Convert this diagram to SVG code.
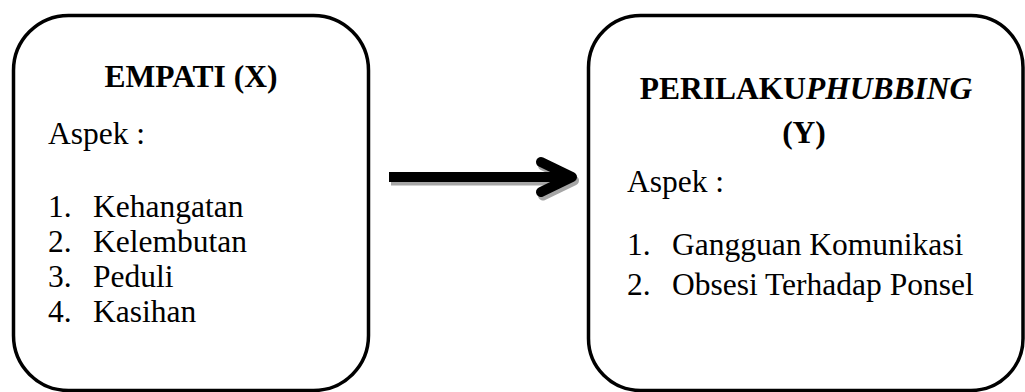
<svg xmlns="http://www.w3.org/2000/svg" width="1025" height="392" viewBox="0 0 1025 392">
<style>
.box{fill:#fff;stroke:#000;stroke-width:3.5}
.t{font-family:"Liberation Serif","Times New Roman",serif;font-size:31.5px;fill:#000}
.b{font-weight:bold}
.bi{font-weight:bold;font-style:italic}
.shaft{stroke-linecap:butt;fill:none}
.head{fill:none;stroke-linecap:round;stroke-linejoin:round}
</style>
<rect width="1025" height="392" fill="#fff"/>
<g id="node-empati">
<rect class="box" x="13.5" y="15.5" width="355" height="375" rx="55" ry="55"/>
<text class="t b" x="191" y="87" text-anchor="middle">EMPATI (X)</text>
<text class="t" x="48" y="144">Aspek :</text>
<text class="t" x="48" y="217">1.</text><text class="t" x="93" y="217">Kehangatan</text>
<text class="t" x="48" y="252">2.</text><text class="t" x="93" y="252">Kelembutan</text>
<text class="t" x="48" y="287">3.</text><text class="t" x="93" y="287">Peduli</text>
<text class="t" x="48" y="322">4.</text><text class="t" x="93" y="322">Kasihan</text>
</g>
<g id="node-perilaku">
<rect class="box" x="588.5" y="15.5" width="434.5" height="375" rx="52" ry="52"/>
<text class="t b" x="806" y="99" text-anchor="middle">PERILAKU<tspan class="bi">PHUBBING</tspan></text>
<text class="t b" x="804" y="143" text-anchor="middle">(Y)</text>
<text class="t" x="627" y="192">Aspek :</text>
<text class="t" x="627" y="255">1.</text><text class="t" x="672" y="255">Gangguan Komunikasi</text>
<text class="t" x="627" y="295">2.</text><text class="t" x="672" y="295">Obsesi Terhadap Ponsel</text>
</g>
<g id="connectors">
<g transform="translate(2,3.5)" stroke="#a6a6a6">
<line class="shaft" x1="389" y1="177" x2="566" y2="177" stroke-width="10"/>
<polyline class="head" points="541,162 572,177 541,192" stroke-width="10"/>
</g>
<g stroke="#000">
<line class="shaft" x1="389" y1="177" x2="566" y2="177" stroke-width="10"/>
<polyline class="head" points="541,162 572,177 541,192" stroke-width="10"/>
</g>
</g>
</svg>
